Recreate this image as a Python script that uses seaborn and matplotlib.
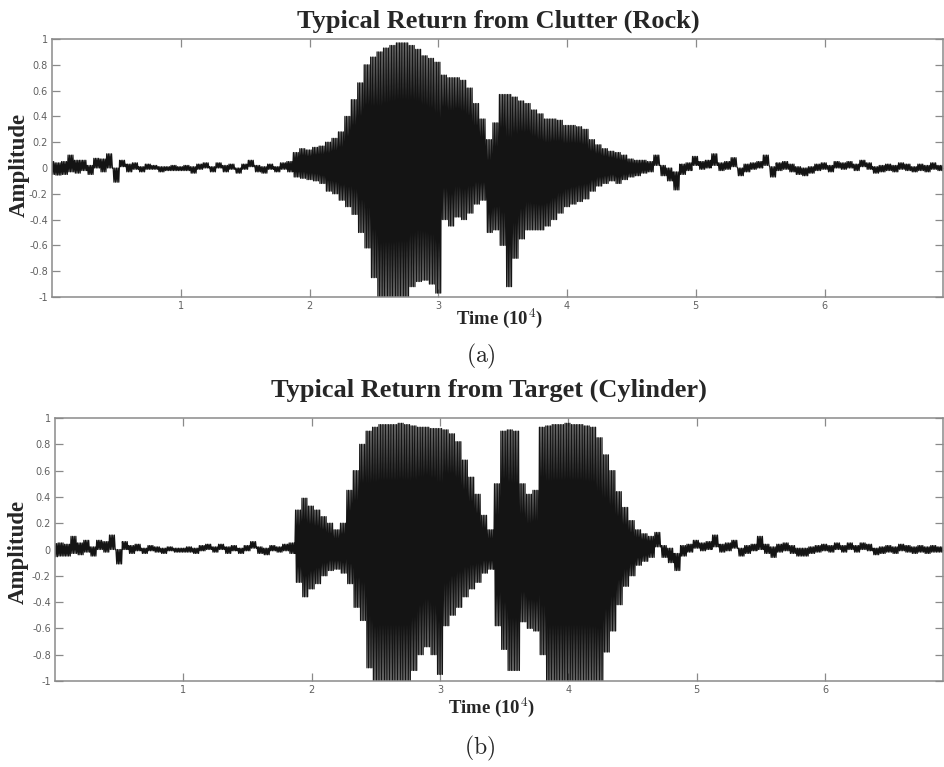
import numpy as np
import pandas as pd
import matplotlib
matplotlib.use("Agg")
import matplotlib.pyplot as plt
import seaborn as sns

# ---------------- data ----------------
# sample times, in units of 10^4 (one envelope reading every 0.05)
time_1e4 = np.round(np.arange(0, 6.901, 0.05), 2)

# upper / lower extent of the trace in each 0.05 window
rock_upper = [
    0.05, 0.04, 0.05, 0.10, 0.06, 0.06, 0.02, 0.075, 0.07, 0.11,
    0.00, 0.06, 0.03, 0.04, 0.01, 0.03, 0.02, 0.01, 0.01, 0.02,
    0.01, 0.02, 0.01, 0.03, 0.04, 0.01, 0.04, 0.02, 0.03, 0.00,
    0.03, 0.06, 0.02, 0.01, 0.03, 0.01, 0.04, 0.05, 0.12, 0.15,
    0.14, 0.16, 0.17, 0.20, 0.23, 0.28, 0.40, 0.53, 0.66, 0.80,
    0.86, 0.90, 0.93, 0.95, 0.97, 0.97, 0.95, 0.92, 0.87, 0.85,
    0.82, 0.72, 0.70, 0.70, 0.68, 0.62, 0.50, 0.38, 0.22, 0.35,
    0.57, 0.57, 0.55, 0.52, 0.50, 0.45, 0.42, 0.38, 0.38, 0.37,
    0.33, 0.33, 0.32, 0.30, 0.22, 0.18, 0.15, 0.13, 0.12, 0.10,
    0.07, 0.06, 0.06, 0.05, 0.10, 0.02, 0.00, -0.03, 0.03, 0.04,
    0.09, 0.05, 0.06, 0.11, 0.04, 0.05, 0.08, 0.00, 0.03, 0.04,
    0.05, 0.10, 0.01, 0.04, 0.05, 0.03, 0.01, 0.00, 0.01, 0.03,
    0.04, 0.02, 0.05, 0.04, 0.05, 0.03, 0.06, 0.04, 0.01, 0.02,
    0.03, 0.02, 0.04, 0.03, 0.01, 0.03, 0.02, 0.04, 0.02,
]
rock_lower = [
    -0.05, -0.055, -0.05, -0.03, -0.04, -0.02, -0.05, 0.00, -0.03, 0.00,
    -0.11, 0.01, -0.03, -0.01, -0.03, -0.01, -0.01, -0.03, -0.02, -0.02,
    -0.02, -0.02, -0.04, -0.01, 0.00, -0.03, 0.00, -0.03, -0.01, -0.04,
    -0.01, 0.01, -0.03, -0.04, -0.01, -0.03, -0.01, -0.03, -0.07, -0.08,
    -0.09, -0.10, -0.12, -0.18, -0.20, -0.25, -0.30, -0.36, -0.50, -0.62,
    -0.85, -1.00, -1.00, -1.00, -1.00, -1.00, -0.92, -0.88, -0.87, -0.90,
    -0.97, -0.40, -0.45, -0.38, -0.40, -0.35, -0.28, -0.25, -0.50, -0.48,
    -0.60, -0.92, -0.70, -0.55, -0.48, -0.48, -0.48, -0.45, -0.40, -0.35,
    -0.30, -0.28, -0.26, -0.24, -0.18, -0.14, -0.12, -0.10, -0.12, -0.09,
    -0.07, -0.06, -0.04, -0.03, 0.02, -0.06, -0.10, -0.17, -0.05, -0.02,
    0.02, -0.01, 0.00, 0.02, -0.02, -0.01, 0.01, -0.06, -0.03, -0.01,
    0.00, 0.02, -0.07, -0.02, -0.01, -0.03, -0.05, -0.06, -0.04, -0.02,
    -0.01, -0.03, 0.00, -0.01, 0.00, -0.02, 0.01, -0.01, -0.04, -0.03,
    -0.02, -0.03, -0.01, -0.02, -0.03, -0.02, -0.03, -0.01, -0.02,
]
cyl_upper = [
    0.045, 0.05, 0.04, 0.10, 0.05, 0.07, 0.02, 0.07, 0.06, 0.11,
    0.00, 0.06, 0.03, 0.04, 0.01, 0.03, 0.02, 0.01, 0.02, 0.01,
    0.01, 0.02, 0.01, 0.03, 0.04, 0.02, 0.04, 0.02, 0.03, 0.01,
    0.03, 0.06, 0.02, 0.01, 0.03, 0.02, 0.04, 0.05, 0.30, 0.39,
    0.33, 0.30, 0.25, 0.20, 0.15, 0.20, 0.45, 0.60, 0.80, 0.90,
    0.93, 0.95, 0.95, 0.95, 0.96, 0.95, 0.94, 0.93, 0.93, 0.92,
    0.92, 0.91, 0.88, 0.82, 0.68, 0.55, 0.42, 0.26, 0.15, 0.50,
    0.90, 0.91, 0.90, 0.50, 0.42, 0.45, 0.93, 0.94, 0.95, 0.95,
    0.96, 0.95, 0.95, 0.94, 0.93, 0.85, 0.72, 0.60, 0.44, 0.32,
    0.22, 0.15, 0.12, 0.10, 0.13, 0.03, 0.01, -0.03, 0.03, 0.04,
    0.07, 0.05, 0.06, 0.11, 0.04, 0.05, 0.07, 0.01, 0.03, 0.04,
    0.10, 0.04, 0.02, 0.04, 0.05, 0.03, 0.01, 0.01, 0.02, 0.03,
    0.04, 0.03, 0.05, 0.03, 0.05, 0.03, 0.05, 0.04, 0.01, 0.02,
    0.03, 0.02, 0.04, 0.03, 0.02, 0.03, 0.02, 0.03, 0.02,
]
cyl_lower = [
    -0.055, -0.05, -0.05, -0.03, -0.04, -0.02, -0.05, 0.00, -0.02, 0.00,
    -0.11, 0.00, -0.03, -0.01, -0.03, -0.01, -0.02, -0.03, -0.01, -0.02,
    -0.02, -0.02, -0.03, -0.01, 0.00, -0.02, 0.00, -0.03, -0.01, -0.03,
    -0.01, 0.01, -0.03, -0.04, -0.01, -0.02, -0.01, -0.03, -0.25, -0.36,
    -0.30, -0.26, -0.20, -0.16, -0.15, -0.18, -0.26, -0.44, -0.54, -0.90,
    -1.00, -1.00, -1.00, -1.00, -1.00, -1.00, -0.92, -0.80, -0.74, -0.80,
    -0.95, -0.58, -0.50, -0.44, -0.36, -0.30, -0.25, -0.18, -0.15, -0.58,
    -0.76, -0.92, -0.92, -0.55, -0.60, -0.62, -0.80, -1.00, -1.00, -1.00,
    -1.00, -1.00, -1.00, -1.00, -1.00, -1.00, -0.78, -0.62, -0.42, -0.28,
    -0.20, -0.12, -0.09, -0.06, 0.02, -0.06, -0.10, -0.16, -0.05, -0.02,
    0.01, -0.01, 0.00, 0.02, -0.02, -0.01, 0.01, -0.05, -0.03, -0.01,
    0.00, -0.03, -0.06, -0.02, -0.01, -0.03, -0.05, -0.05, -0.03, -0.02,
    -0.01, -0.02, 0.00, -0.02, 0.00, -0.02, 0.00, -0.01, -0.04, -0.03,
    -0.02, -0.03, -0.01, -0.02, -0.03, -0.02, -0.03, -0.02, -0.02,
]

x_ticks = [1, 2, 3, 4, 5, 6]
x_tick_labels = ["1", "2", "3", "4", "5", "6"]
y_ticks = [-1, -0.8, -0.6, -0.4, -0.2, 0, 0.2, 0.4, 0.6, 0.8, 1]
y_tick_labels = ["-1", "-0.8", "-0.6", "-0.4", "-0.2", "0",
                 "0.2", "0.4", "0.6", "0.8", "1"]

titles = ["Typical Return from Clutter (Rock)",
          "Typical Return from Target (Cylinder)"]
panel_tags = [r"$\mathrm{(a)}$", r"$\mathrm{(b)}$"]

assert len(time_1e4) == len(rock_upper) == len(rock_lower) == len(cyl_upper) == len(cyl_lower)


def oscillation_frame(t, up, lo, window=0.05, strokes=4):
    """Render each window's reading as a dense up/down oscillation
    between its upper and lower value (like a sampled sonar trace)."""
    xs, ys = [], []
    w = window / strokes
    for ti, u, l in zip(t, up, lo):
        start = ti - window / 2
        for k in range(strokes):
            xs += [start + k * w, start + k * w + w / 2]
            ys += [u, l]
    return pd.DataFrame({"time": xs, "amp": ys})


# ---------------- styling ----------------
sns.set_theme(style="white")
plt.rcParams["font.family"] = ["Liberation Serif", "DejaVu Serif"]
plt.rcParams["mathtext.fontset"] = "cm"

fig = plt.figure(figsize=(9.44, 7.67), dpi=100)
ax_positions = [
    [52 / 944, 470 / 767, 891 / 944, 258 / 767],
    [55 / 944, 86 / 767, 888 / 944, 263 / 767],
]
signals = [(rock_upper, rock_lower), (cyl_upper, cyl_lower)]
spine_col = "#8a8a8a"

for pos, (up, lo) in zip(ax_positions, signals):
    ax = fig.add_axes(pos)
    df = oscillation_frame(time_1e4, up, lo)
    sns.lineplot(data=df, x="time", y="amp", sort=False, estimator=None,
                 color="#141414", lw=0.9, ax=ax)
    ax.set_xlim(0, 6.92)
    ax.set_ylim(-1, 1)
    ax.set_xticks(x_ticks)
    ax.set_xticklabels(x_tick_labels)
    ax.set_yticks(y_ticks)
    ax.set_yticklabels(y_tick_labels)
    ax.set_xlabel("")
    ax.set_ylabel("")
    ax.tick_params(direction="in", length=6, width=0.9, color=spine_col,
                   top=True, right=True, bottom=True, left=True,
                   labelsize=7, labelcolor="#606060", pad=3)
    for lab in ax.get_xticklabels() + ax.get_yticklabels():
        lab.set_fontfamily("DejaVu Sans")
    for sp in ax.spines.values():
        sp.set_color(spine_col)
        sp.set_linewidth(1.1)

# titles
fig.text(498 / 944, 1 - 28 / 767, titles[0], ha="center", va="baseline",
         fontsize=19, fontweight="bold")
fig.text(489 / 944, 1 - 397 / 767, titles[1], ha="center", va="baseline",
         fontsize=19, fontweight="bold")

# y labels
fig.text(19 / 944, 1 - 165 / 767, "Amplitude", rotation=90, ha="center",
         va="center", fontsize=16.5, fontweight="bold")
fig.text(18 / 944, 1 - 552 / 767, "Amplitude", rotation=90, ha="center",
         va="center", fontsize=16.5, fontweight="bold")

# x labels
fig.text(500 / 944, 1 - 325 / 767, r"Time (10$^{\mathbf{4}}$)", ha="center",
         va="baseline", fontsize=13.5, fontweight="bold")
fig.text(492 / 944, 1 - 714 / 767, r"Time (10$^{\mathbf{4}}$)", ha="center",
         va="baseline", fontsize=13.5, fontweight="bold")

# panel tags
fig.text(481 / 944, 1 - 356 / 767, panel_tags[0], ha="center", va="center",
         fontsize=17)
fig.text(480 / 944, 1 - 748 / 767, panel_tags[1], ha="center", va="center",
         fontsize=17)

fig.savefig("out.png", dpi=100)
